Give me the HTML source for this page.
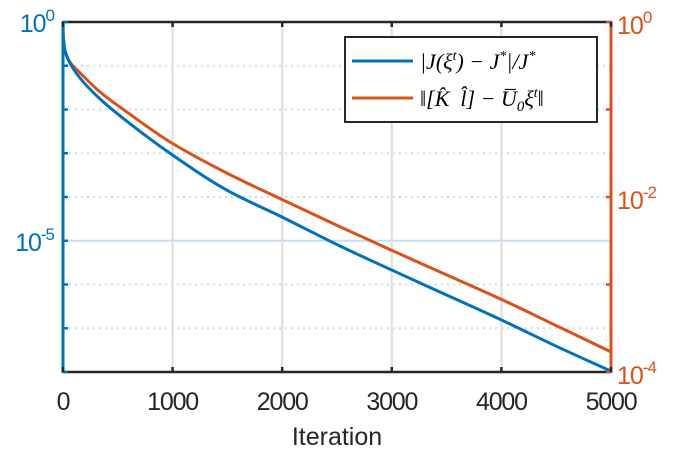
<!DOCTYPE html>
<html><head><meta charset="utf-8"><style>
body{margin:0;background:#fff}
svg{display:block;font-family:"Liberation Sans",Arial,sans-serif}
</style></head><body>
<svg id="chart" width="677" height="451"></svg>
<script>
const iterations=[0,3,18,64,155,338,584,976,1500,2000,2527,3000,3500,4000,4500,5000];
const costGapExp=[0,-0.30,-0.64,-0.94,-1.28,-1.76,-2.27,-3.00,-3.85,-4.46,-5.12,-5.67,-6.24,-6.81,-7.41,-7.98];
const residualExp=[-0.26,-0.29,-0.34,-0.46,-0.58,-0.80,-1.03,-1.37,-1.73,-2.03,-2.34,-2.61,-2.89,-3.17,-3.47,-3.77];
const xTicks=[0,1000,2000,3000,4000,5000];
const leftTickExp=[0,-5];
const rightTickExp=[0,-2,-4];

const L=63,R=611,T=22,B=372;
const X=v=>L+(v/5000)*(R-L);
const YL=e=>T+(-e/8)*(B-T);
const YR=e=>T+(-e/4)*(B-T);
const NS="http://www.w3.org/2000/svg";
const svg=document.getElementById('chart');
function mk(tag,attrs,parent){const el=document.createElementNS(NS,tag);for(const k in attrs)el.setAttribute(k,attrs[k]);(parent||svg).appendChild(el);return el;}

// grid
for(let e=-1;e>=-7;e--){
  const y=YL(e);
  const g=mk('line',{x1:L,x2:R,y1:y,y2:y,stroke:'#c5ddef','stroke-width':2,'stroke-dasharray':e===-5?'none':'2 4'});
  
  
}
for(const v of xTicks.slice(1,-1)){
  const g=mk('line',{x1:X(v),x2:X(v),y1:T,y2:B,stroke:'#dcdcdc','stroke-width':2});
  
  
}
// series: monotone cubic (Fritsch-Carlson) in x
function series(exps,Y,color,name){
  const xs=iterations.map(X), ys=exps.map(Y), n=xs.length;
  const d=[],m=[];
  for(let i=0;i<n-1;i++)d.push((ys[i+1]-ys[i])/(xs[i+1]-xs[i]));
  m[0]=d[0];m[n-1]=d[n-2];
  for(let i=1;i<n-1;i++){
    if(d[i-1]*d[i]<=0)m[i]=0;
    else{const h0=xs[i]-xs[i-1],h1=xs[i+1]-xs[i];const w1=2*h1+h0,w2=h1+2*h0;m[i]=(w1+w2)/(w1/d[i-1]+w2/d[i]);}
  }
  let p='M'+xs[0]+','+ys[0];
  for(let i=0;i<n-1;i++){
    const h=(xs[i+1]-xs[i])/3;
    p+=' C'+(xs[i]+h)+','+(ys[i]+m[i]*h)+' '+(xs[i+1]-h)+','+(ys[i+1]-m[i+1]*h)+' '+xs[i+1]+','+ys[i+1];
  }
  const el=mk('path',{d:p,fill:'none',stroke:color,'stroke-width':3,'stroke-linejoin':'round'});
  
  
}
series(residualExp,YR,'#D95319','residual-line');
series(costGapExp,YL,'#0072BD','cost-gap-line');

// axes
mk('line',{x1:L,x2:R,y1:T,y2:T,stroke:'#262626','stroke-width':2.5});
mk('line',{x1:L,x2:R,y1:B,y2:B,stroke:'#262626','stroke-width':2.5});
const la=mk('line',{x1:L,x2:L,y1:T-1,y2:B+1,stroke:'#0072BD','stroke-width':3});


const ra=mk('line',{x1:R,x2:R,y1:T-1,y2:B+1,stroke:'#D95319','stroke-width':3});


for(let e=0;e>=-8;e--){mk('line',{x1:L,x2:L+5,y1:YL(e),y2:YL(e),stroke:'#0072BD','stroke-width':2.5});}
for(let e=0;e>=-4;e--){mk('line',{x1:R-5,x2:R,y1:YR(e),y2:YR(e),stroke:'#D95319','stroke-width':2.5});}
for(const v of xTicks){
  mk('line',{x1:X(v),x2:X(v),y1:T,y2:T+5,stroke:'#262626','stroke-width':2.5});
  mk('line',{x1:X(v),x2:X(v),y1:B,y2:B-5,stroke:'#262626','stroke-width':2.5});
  const t=mk('text',{x:X(v),y:410,'text-anchor':'middle','font-size':25,fill:'#262626','letter-spacing':'-1.2'});
  t.textContent=v;
  
  
}
for(const e of leftTickExp){
  const t=mk('text',{x:L-9,y:YL(e)+10,'text-anchor':'end','font-size':25,fill:'#0072BD','letter-spacing':'-1'});
  t.innerHTML='10<tspan dy="-11" font-size="17">'+e+'</tspan>';
  
  
}
for(const e of rightTickExp){
  const t=mk('text',{x:R+6,y:YR(e)+12,'text-anchor':'start','font-size':25,fill:'#D95319','letter-spacing':'-1'});
  t.innerHTML='10<tspan dy="-11" font-size="17">'+e+'</tspan>';
  
  
}
const xt=mk('text',{x:(L+R)/2,y:445,'text-anchor':'middle','font-size':25,fill:'#262626'});
xt.textContent='Iteration';



// legend
const lg=mk('g',{});


mk('rect',{x:345,y:37,width:252,height:85,fill:'#fff',stroke:'#262626','stroke-width':2},lg);
mk('line',{x1:352,x2:413,y1:61,y2:61,stroke:'#0072BD','stroke-width':3},lg);
mk('line',{x1:352,x2:413,y1:98,y2:98,stroke:'#D95319','stroke-width':3},lg);
const t1=mk('text',{x:420,y:69,'font-size':22,'font-family':'Liberation Serif, serif','font-style':'italic',fill:'#000'},lg);
t1.innerHTML='|J(ξ<tspan dy="-9" font-size="14">t</tspan><tspan dy="9">) − J</tspan><tspan dy="-9" font-size="14">*</tspan><tspan dy="9">|/J</tspan><tspan dy="-9" font-size="14">*</tspan>';


const t2=mk('text',{x:420,y:106,'font-size':22,'font-family':'Liberation Serif, serif','font-style':'italic',fill:'#000'},lg);
t2.innerHTML='‖[K̂ &#160;l̂] − U̅<tspan dy="5" font-size="15">0</tspan><tspan dy="-5">ξ</tspan><tspan dy="-9" font-size="14">t</tspan><tspan dy="9">‖</tspan>';


</script>
</body></html>
